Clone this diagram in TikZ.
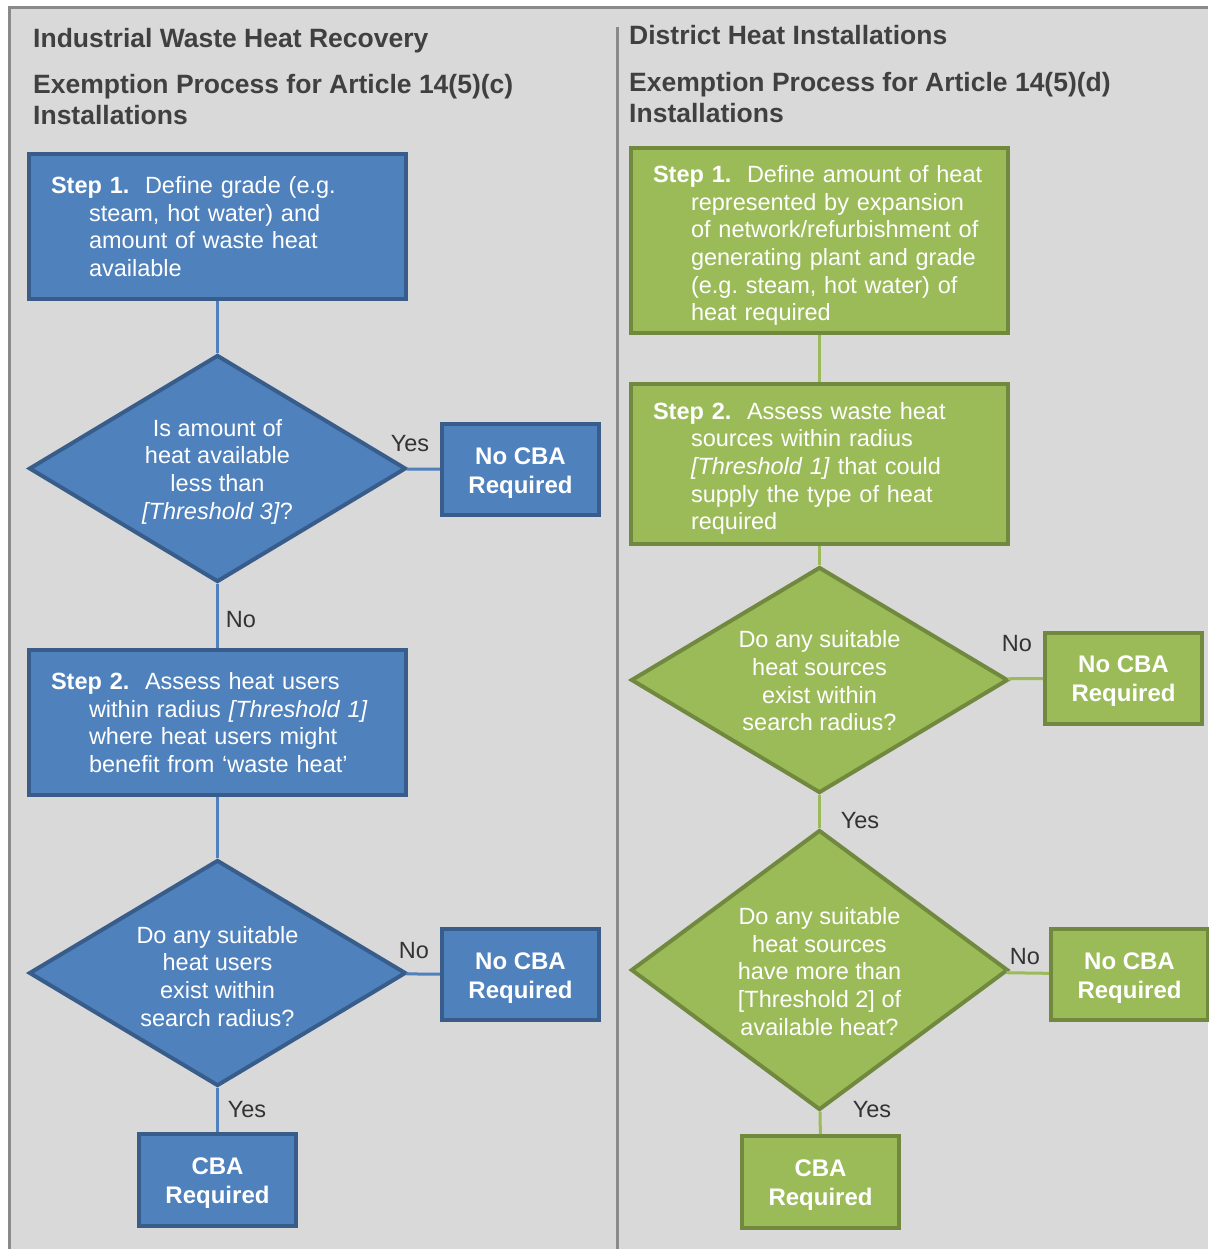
\documentclass[tikz,border=0pt]{standalone}
\usepackage{fontspec}
\setmainfont{Liberation Sans}
\usetikzlibrary{shapes.geometric}

\definecolor{bluefill}{HTML}{4F81BD}
\definecolor{blueline}{HTML}{385D8A}
\definecolor{greenfill}{HTML}{9BBB59}
\definecolor{greenline}{HTML}{71893F}
\definecolor{panelgray}{HTML}{D9D9D9}
\definecolor{framegray}{HTML}{8A8A8A}
\definecolor{titlegray}{HTML}{404040}
\newcommand{\stepindent}{\hspace*{38pt}}
\newcommand{\topstrut}{\rule{0pt}{23.5pt}}

\begin{document}
\begin{tikzpicture}[x=1pt, y=-1pt,
   bodyfont/.style={font=\fontsize{23.5}{27.7}\selectfont},
   stepbox/.style={rectangle, draw, line width=4pt, bodyfont, text=white, text width=333pt, inner xsep=22pt, inner ysep=0pt, align=left},
   decision/.style={diamond, draw, line width=4pt, bodyfont, text=white, align=center, inner sep=0pt, minimum width=377pt},
   endbox/.style={rectangle, draw, line width=4pt, font=\bfseries\fontsize{24}{29}\selectfont, text=white, align=center, inner sep=0pt, minimum width=157pt, minimum height=91pt},
   blue/.style={fill=bluefill, draw=blueline},
   green/.style={fill=greenfill, draw=greenline},
   lbl/.style={font=\fontsize{23.5}{28}\selectfont, text=black!80, inner sep=0pt},
   heading/.style={font=\bfseries\fontsize{26.5}{31}\selectfont, text=titlegray, inner sep=0pt, align=left, anchor=north west},
   blueconn/.style={draw=bluefill, line width=3pt},
   greenconn/.style={draw=greenfill, line width=3pt}]
   \useasboundingbox (0,0) rectangle (1208,1249);
   % panel and frame
   \fill[white] (0,0) rectangle (1208,1249);
   \fill[panelgray] (9.5,8) rectangle (1208,1249);
   \draw[framegray, line width=3pt] (9.5,1249) -- (9.5,8) -- (1208,8);
   \draw[framegray, line width=3pt] (617.5,27) -- (617.5,1249);
   % left column
   \node[heading] (ltitle) at (33,28.5) {Industrial Waste Heat Recovery};
   \node[heading] (lsub) at (33,74) {Exemption Process for Article 14(5)(c)\\Installations};
   \node[stepbox, blue, minimum height=145pt] (ls1) at (217.5,226.5) {\textbf{Step 1.}\ \ Define grade (e.g.\\
      \stepindent steam, hot water) and\\
      \stepindent amount of waste heat\\
      \stepindent available};
   \node[decision, blue, minimum height=227pt, aspect=1.66] (ld1) at (217.5,468.5) {\topstrut Is amount of\\heat available\\less than\\\textit{[Threshold 3]}?};
   \node[endbox, blue] (ln1) at (520.5,469.5) {\topstrut No CBA\\Required};
   \node[stepbox, blue, minimum height=145pt] (ls2) at (217.5,722.5) {\textbf{Step 2.}\ \ Assess heat users\\
      \stepindent within radius \textit{[Threshold 1]}\\
      \stepindent where heat users might\\
      \stepindent benefit from `waste heat'};
   \node[decision, blue, minimum height=226pt, aspect=1.66] (ld2) at (217.5,973) {\topstrut Do any suitable\\heat users\\exist within\\search radius?};
   \node[endbox, blue] (ln2) at (520.5,974.5) {\topstrut No CBA\\Required};
   \node[endbox, blue, minimum height=92pt] (lc) at (217.5,1180) {\topstrut CBA\\Required};
   \draw[blueconn] (ls1) -- (ld1);
   \draw[blueconn] (ld1) -- (ln1);
   \draw[blueconn] (ld1) -- (ls2);
   \draw[blueconn] (ls2) -- (ld2);
   \draw[blueconn] (ld2) -- (ln2);
   \draw[blueconn] (ld2) -- (lc);
   \node[lbl] (lyes1) at (410,444) {Yes};
   \node[lbl] (lno1) at (241,620) {No};
   \node[lbl] (lno2) at (414,951) {No};
   \node[lbl] (lyes2) at (247,1110) {Yes};
   % right column
   \node[heading] (rtitle) at (629,25.5) {District Heat Installations};
   \node[heading] (rsub) at (629,72) {Exemption Process for Article 14(5)(d)\\Installations};
   \node[stepbox, green, minimum height=185pt] (rs1) at (819.5,240.5) {\rule{0pt}{27pt}\mbox{\textbf{Step 1.}\ \ Define amount of heat}\\
      \stepindent represented by expansion\\
      \stepindent of network/refurbishment of\\
      \stepindent generating plant and grade\\
      \stepindent (e.g.\ steam, hot water) of\\
      \stepindent heat required};
   \node[stepbox, green, minimum height=160pt] (rs2) at (819.5,464) {\rule{0pt}{26pt}\textbf{Step 2.}\ \ Assess waste heat\\
      \stepindent sources within radius\\
      \stepindent \textit{[Threshold 1]} that could\\
      \stepindent supply the type of heat\\
      \stepindent required};
   \node[decision, green, minimum height=226pt, aspect=1.67] (rd1) at (819.5,680) {\rule{0pt}{19pt}Do any suitable\\heat sources\\exist within\\search radius?};
   \node[endbox, green] (rn1) at (1123.5,678) {\topstrut No CBA\\Required};
   \node[decision, green, minimum height=280pt, aspect=1.35] (rd2) at (819.5,970) {\rule{0pt}{20pt}Do any suitable\\heat sources\\have more than\\{[}Threshold 2{]} of\\available heat?};
   \node[endbox, green] (rn2) at (1129.5,974.5) {\topstrut No CBA\\Required};
   \node[endbox, green, minimum height=92pt] (rc) at (820.5,1182) {\topstrut CBA\\Required};
   \draw[greenconn] (rs1) -- (rs2);
   \draw[greenconn] (rs2) -- (rd1);
   \draw[greenconn] (rd1) -- (rn1);
   \draw[greenconn] (rd1) -- (rd2);
   \draw[greenconn] (rd2) -- (rn2);
   \draw[greenconn] (rd2) -- (rc);
   \node[lbl] (rno1) at (1017,644) {No};
   \node[lbl] (ryes1) at (860,821) {Yes};
   \node[lbl] (rno2) at (1025,957) {No};
   \node[lbl] (ryes2) at (872,1110) {Yes};
\end{tikzpicture}
\end{document}
